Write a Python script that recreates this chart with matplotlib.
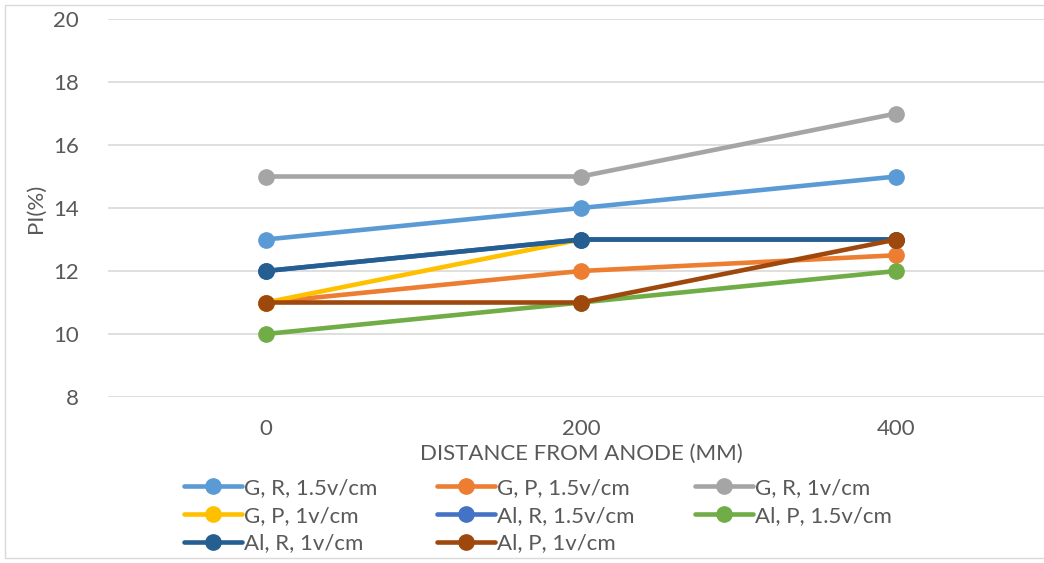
import matplotlib
matplotlib.use("Agg")
import matplotlib.pyplot as plt
from matplotlib.patches import Rectangle

plt.rcParams["font.family"] = ["Lato", "DejaVu Sans"]

# data
distances = ["0", "200", "400"]
g_r_15 = [13, 14, 15]
g_p_15 = [11, 12, 12.5]
g_r_1 = [15, 15, 17]
g_p_1 = [11, 13, 13]
al_r_15 = [12, 13, 13]
al_p_15 = [10, 11, 12]
al_r_1 = [12, 13, 13]
al_p_1 = [11, 11, 13]

series = [
    ("G, R, 1.5v/cm", g_r_15, "#5B9BD5"),
    ("G, P, 1.5v/cm", g_p_15, "#ED7D31"),
    ("G, R, 1v/cm", g_r_1, "#A5A5A5"),
    ("G, P, 1v/cm", g_p_1, "#FFC000"),
    ("Al, R, 1.5v/cm", al_r_15, "#4472C4"),
    ("Al, P, 1.5v/cm", al_p_15, "#70AD47"),
    ("Al, R, 1v/cm", al_r_1, "#255E91"),
    ("Al, P, 1v/cm", al_p_1, "#9E480E"),
]

TXT = "#595959"
FS = 16

fig = plt.figure(figsize=(10.44, 5.63), dpi=100)
# plot area extends past right edge, as in the cropped reference
ax = fig.add_axes([108 / 1044, 1 - 397 / 563, 946 / 1044, 378 / 563])

x = range(len(distances))
lines = []
for label, vals, col in series:
    ln, = ax.plot(x, vals, color=col, lw=3.3, marker="o", ms=11,
                  solid_capstyle="round", label=label)
    lines.append(ln)

ax.set_xlim(-0.5, 2.5)
ax.set_ylim(8, 20)
ax.set_yticks(range(8, 21, 2))
ax.set_xticks(list(x))
ax.set_xticklabels(distances)
ax.grid(axis="y", color="#D9D9D9", lw=1.2)
ax.set_axisbelow(True)
for s in ax.spines.values():
    s.set_visible(False)
ax.tick_params(length=0, labelsize=FS, labelcolor=TXT)
ax.tick_params(axis="y", pad=21)
ax.tick_params(axis="x", pad=16)
ax.set_xlabel("DISTANCE FROM ANODE (MM)", fontsize=FS, color=TXT, labelpad=3)
ax.set_ylabel("PI(%)", fontsize=FS, color=TXT, labelpad=5)

# legend filled row by row (matplotlib fills columns)
order = [0, 3, 6, 1, 4, 7, 2, 5]
fig.legend([lines[i] for i in order], [series[i][0] for i in order],
           loc="upper left", bbox_to_anchor=(175 / 1044, 1 - 469 / 563),
           ncol=3, frameon=False, fontsize=FS, labelcolor=TXT,
           handlelength=2.6, handletextpad=0.1, columnspacing=2.7,
           labelspacing=0.35, borderaxespad=0)

# chart border
fig.patches.append(Rectangle((5 / 1044, 5 / 563), 1.2, 1 - 10 / 563,
                             transform=fig.transFigure, fill=False,
                             edgecolor="#D9D9D9", lw=1))

fig.savefig("out.png", dpi=100, facecolor="white")
